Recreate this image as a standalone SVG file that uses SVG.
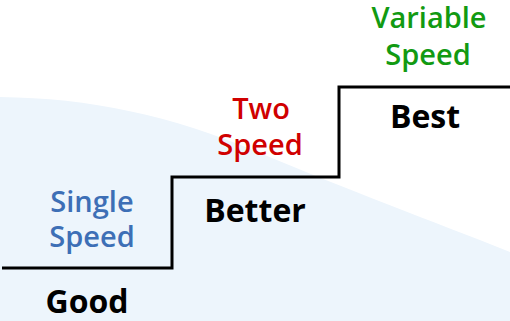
<svg xmlns="http://www.w3.org/2000/svg" width="510" height="321" viewBox="0 0 510 321">
<style>
.lbl{font-family:"Open Sans","Noto Sans",sans-serif;text-anchor:middle}
.blk{font-weight:700;font-size:32px;fill:#000}
.col{font-weight:600;font-size:29px}
.blue{fill:#3D6FB6}
.red{fill:#D00000}
.green{fill:#129A12}
.step{fill:none;stroke:#000;stroke-width:3;stroke-linejoin:miter}
</style>
<rect width="510" height="321" fill="#fff"/>
<path d="M0,97 C90,98 170,115 260,153 S430,220 510,252 L510,321 L0,321 Z" fill="#EDF5FC"/>
<g id="connectors">
<path class="step" d="M2,268 H172 V177 H339 V87 H510"/>
</g>
<g id="good">
<text class="lbl blk" x="87" y="313">Good</text>
<text class="lbl col blue" x="92" y="212">Single</text>
<text class="lbl col blue" x="92" y="247">Speed</text>
</g>
<g id="better">
<text class="lbl blk" x="255" y="222">Better</text>
<text class="lbl col red" x="261" y="119">Two</text>
<text class="lbl col red" x="260" y="155">Speed</text>
</g>
<g id="best">
<text class="lbl blk" x="425" y="128">Best</text>
<text class="lbl col green" x="429" y="28">Variable</text>
<text class="lbl col green" x="428" y="65">Speed</text>
</g>
</svg>
